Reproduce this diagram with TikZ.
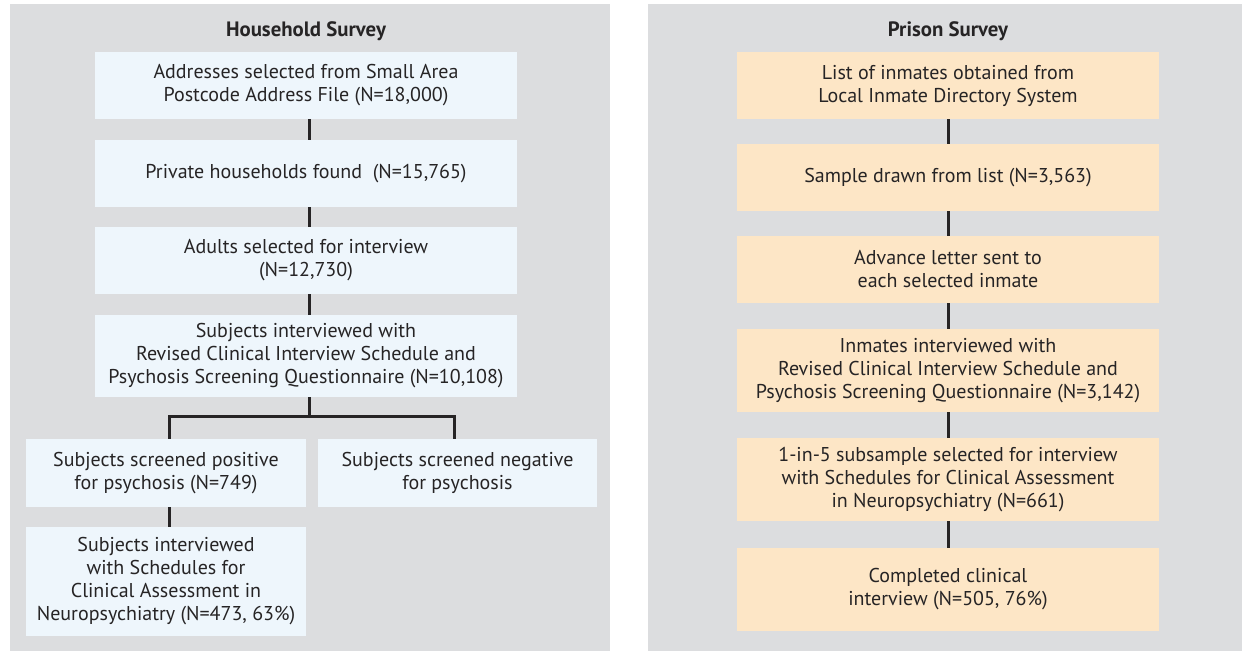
\documentclass[tikz,border=0pt]{standalone}
\usepackage{fontspec}
\setmainfont{PT Sans}
\definecolor{panelgrey}{HTML}{DCDDDF}
\definecolor{bluefill}{HTML}{EEF6FC}
\definecolor{peachfill}{HTML}{FDE6C6}
\definecolor{ink}{HTML}{262425}
\begin{document}
\begin{tikzpicture}[x=0.5pt,y=-0.5pt,
  boxtext/.style={inner sep=0pt, align=center, text=ink, font=\fontsize{10}{11.5}\selectfont},
  hbox/.style={boxtext, fill=bluefill},
  pbox/.style={boxtext, fill=peachfill},
  ttl/.style={anchor=base, text=ink, inner sep=0pt, font=\bfseries\fontsize{10.4}{12}\selectfont},
  link/.style={line width=1.5pt, draw=ink}]
\useasboundingbox (0,0) rectangle (1242,651);
\fill[panelgrey] (10,4) rectangle (610,651);
\fill[panelgrey] (648,4) rectangle (1242,651);

% Household survey
\node[ttl] (htitle) at (306,37) {Household Survey};
\node[hbox, minimum width=211pt, minimum height=33.5pt] (h1) at (306,85.5)
  {Addresses selected from Small Area\\Postcode Address File (N=18,000)};
\node[hbox, minimum width=211pt, minimum height=33.5pt] (h2) at (306,173.5)
  {Private households found\ \ (N=15,765)};
\node[hbox, minimum width=211pt, minimum height=33.5pt] (h3) at (306,260.5)
  {Adults selected for interview\\(N=12,730)};
\node[hbox, minimum width=211pt, minimum height=41pt] (h4) at (306,356)
  {Subjects interviewed with\\Revised Clinical Interview Schedule and\\Psychosis Screening Questionnaire (N=10,108)};
\node[hbox, minimum width=140pt, minimum height=34pt] (hpos) at (166,473)
  {Subjects screened positive\\for psychosis (N=749)};
\node[hbox, minimum width=139.5pt, minimum height=34pt] (hneg) at (457.5,473)
  {Subjects screened negative\\for psychosis};
\node[hbox, minimum width=140pt, minimum height=54.5pt] (hsub) at (166,581.5)
  {Subjects interviewed\\with Schedules for\\Clinical Assessment in\\Neuropsychiatry (N=473, 63\%)};
\coordinate (hsplit) at (309,417);

\draw[link] ([xshift=1.5pt]h1.south) -- ([xshift=1.5pt]h2.north);
\draw[link] ([xshift=1.5pt]h2.south) -- ([xshift=1.5pt]h3.north);
\draw[link] ([xshift=1.5pt]h3.south) -- ([xshift=1.5pt]h4.north);
\draw[link] ([xshift=1.5pt]h4.south) -- (hsplit);
\draw[link] ([xshift=1.5pt]hpos.north) |- (hsplit) -| ([xshift=-1.75pt]hneg.north);
\draw[link] ([xshift=1.5pt]hpos.south) -- ([xshift=1.5pt]hsub.north);

% Prison survey
\node[ttl] (ptitle) at (948,37) {Prison Survey};
\node[pbox, minimum width=211pt, minimum height=33.5pt] (p1) at (948,85.5)
  {List of inmates obtained from\\Local Inmate Directory System};
\node[pbox, minimum width=211pt, minimum height=33.5pt] (p2) at (948,177.5)
  {Sample drawn from list (N=3,563)};
\node[pbox, minimum width=211pt, minimum height=33.5pt] (p3) at (948,269.5)
  {Advance letter sent to\\each selected inmate};
\node[pbox, minimum width=211pt, minimum height=41.5pt] (p4) at (948,370.5)
  {Inmates interviewed with\\Revised Clinical Interview Schedule and\\Psychosis Screening Questionnaire (N=3,142)};
\node[pbox, minimum width=211pt, minimum height=41.5pt] (p5) at (948,479.5)
  {1-in-5 subsample selected for interview\\with Schedules for Clinical Assessment\\in Neuropsychiatry (N=661)};
\node[pbox, minimum width=211pt, minimum height=41.5pt] (p6) at (948,589.5)
  {Completed clinical\\interview (N=505, 76\%)};

\draw[link] (p1.south) -- (p2.north);
\draw[link] (p2.south) -- (p3.north);
\draw[link] (p3.south) -- (p4.north);
\draw[link] (p4.south) -- (p5.north);
\draw[link] (p5.south) -- (p6.north);
\end{tikzpicture}
\end{document}
